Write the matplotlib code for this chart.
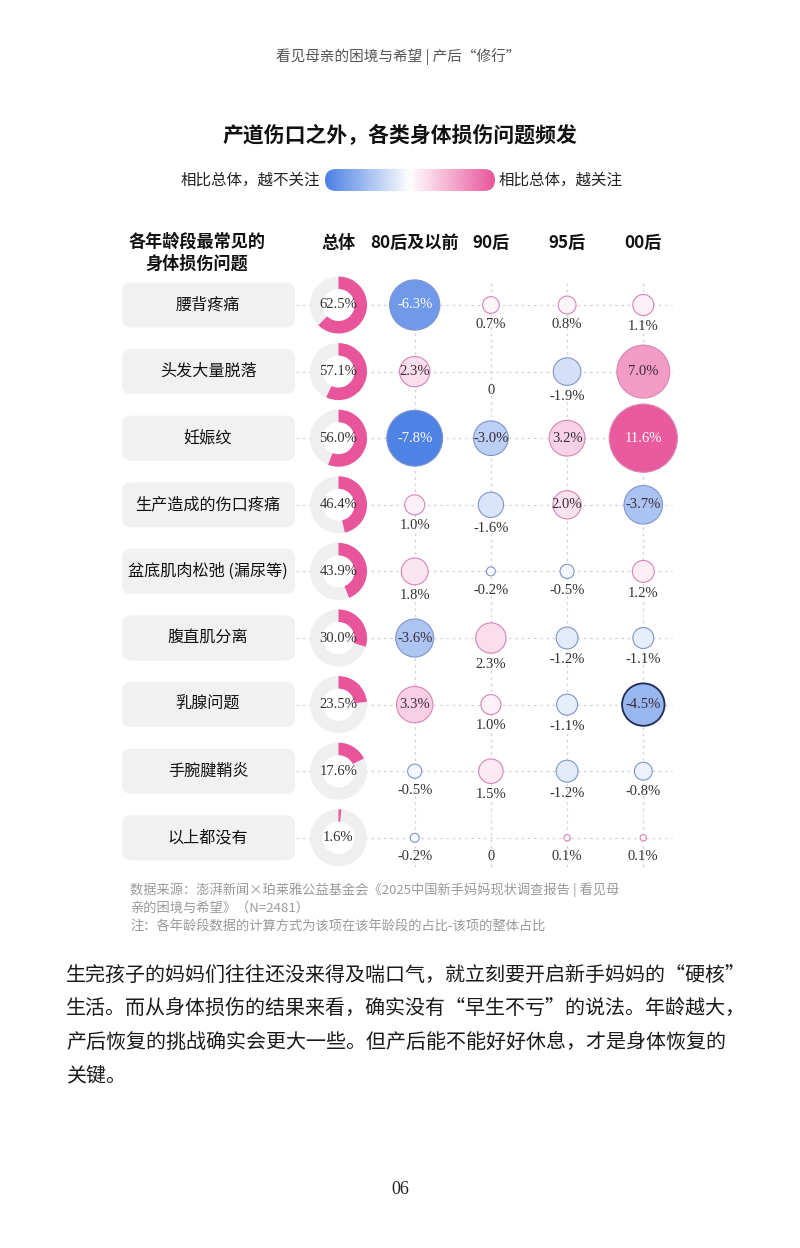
import matplotlib
matplotlib.use("Agg")
import matplotlib.pyplot as plt
import numpy as np
from matplotlib.patches import Circle, Wedge, FancyBboxPatch
from matplotlib.colors import LinearSegmentedColormap, TwoSlopeNorm

plt.rcParams['font.family'] = ['Noto Sans CJK SC', 'DejaVu Sans']

# ---------------- data ----------------
issues = ["腰背疼痛", "头发大量脱落", "妊娠纹", "生产造成的伤口疼痛", "盆底肌肉松弛 (漏尿等)",
          "腹直肌分离", "乳腺问题", "手腕腱鞘炎", "以上都没有"]
overall = [62.5, 57.1, 56.0, 46.4, 43.9, 30.0, 23.5, 17.6, 1.6]
age_groups = ["80后及以前", "90后", "95后", "00后"]
gen80 = [-6.3, 2.3, -7.8, 1.0, 1.8, -3.6, 3.3, -0.5, -0.2]
gen90 = [0.7, 0.0, -3.0, -1.6, -0.2, 2.3, 1.0, 1.5, 0.0]
gen95 = [0.8, -1.9, 3.2, 2.0, -0.5, -1.2, -1.1, -1.2, 0.1]
gen00 = [1.1, 7.0, 11.6, -3.7, 1.2, -1.1, -4.5, -0.8, 0.1]
diffs = [gen80, gen90, gen95, gen00]
# labels printed below the bubble even though the bubble is large
below_override = {(5, 1)}
highlight = {(6, 3)}

title = "产道伤口之外，各类身体损伤问题频发"
header = "看见母亲的困境与希望 | 产后\u201c修行\u201d"
legend_left = "相比总体，越不关注"
legend_right = "相比总体，越关注"
row_header = "各年龄段最常见的\n身体损伤问题"
col_overall = "总体"
source_lines = ["数据来源：澎湃新闻×珀莱雅公益基金会《2025中国新手妈妈现状调查报告 | 看见母",
                "亲的困境与希望》（N=2481）",
                "注：各年龄段数据的计算方式为该项在该年龄段的占比-该项的整体占比"]
body_lines = ["生完孩子的妈妈们往往还没来得及喘口气，就立刻要开启新手妈妈的\u201c硬核\u201d",
              "生活。而从身体损伤的结果来看，确实没有\u201c早生不亏\u201d的说法。年龄越大，",
              "产后恢复的挑战确实会更大一些。但产后能不能好好休息，才是身体恢复的",
              "关键。"]
page_no = "06"

# ---------------- layout ----------------
W, H = 800, 1248
fig = plt.figure(figsize=(W / 100, H / 100), dpi=100)
ax = fig.add_axes([0, 0, 1, 1])

BLUE = "#4A7FE3"
PINK = "#E8559B"
cmap = LinearSegmentedColormap.from_list("bp", [BLUE, "#FFFFFF", PINK])
norm = TwoSlopeNorm(vmin=-8, vcenter=0, vmax=12)

x0, dx = 338.5, 76.2
y0, dy = 305, 66.6
col_x = [x0 + dx * i for i in range(5)]
row_y = [y0 + dy * j for j in range(len(issues))]

serif = "Liberation Serif"

# header
ax.text(398, 57, header, ha="center", va="center", fontsize=10.5, color="#555555")
# title
ax.text(400, 136, title, ha="center", va="center", fontsize=15, fontweight="bold", color="#111111")

# gradient legend
bx0, bx1, by0, by1 = 325, 495, 169, 191
grad = np.linspace(0, 1, 256).reshape(1, -1)
im = ax.imshow(grad, cmap=cmap, extent=(bx0, bx1, by1, by0), aspect="auto", zorder=2,
               interpolation="bicubic")
clip = FancyBboxPatch((bx0, by0), bx1 - bx0, by1 - by0,
                      boxstyle="round,pad=0,rounding_size=11", facecolor="none", edgecolor="none")
ax.add_patch(clip)
im.set_clip_path(clip)
ax.text(bx0 - 5, 180, legend_left, ha="right", va="center", fontsize=11.2, color="#222222")
ax.text(bx1 + 4, 180, legend_right, ha="left", va="center", fontsize=11.2, color="#222222")

# column headers
ax.text(197, 253, row_header, ha="center", va="center", fontsize=12.3, fontweight="bold",
        color="#111111", linespacing=1.3)
heads = [col_overall] + age_groups
for cx, h in zip(col_x, heads):
    ax.text(cx, 243, h, ha="center", va="center", fontsize=12.3, fontweight="bold", color="#111111")

# grid lines
grid_c = "#D9CCDA"
for cx in col_x[1:]:
    ax.plot([cx, cx], [283, 868], ls=(0, (2, 3)), color=grid_c, lw=0.9, zorder=0)
for ry in row_y:
    ax.plot([296, 672], [ry, ry], ls=(0, (2, 3)), color=grid_c, lw=0.9, zorder=0)

# rows
for j, (name, tot) in enumerate(zip(issues, overall)):
    ry = row_y[j]
    box = FancyBboxPatch((122, ry - 22.5), 173, 45, boxstyle="round,pad=0,rounding_size=9",
                         facecolor="#F1F1F1", edgecolor="none", zorder=1)
    ax.add_patch(box)
    ax.text(208, ry, name, ha="center", va="center", fontsize=11.6, fontweight="medium",
            color="#111111", zorder=3)

    cx = col_x[0]
    ax.add_patch(Wedge((cx, ry), 28.5, 0, 360, width=12.5, facecolor="#EFEFEF",
                       edgecolor="none", zorder=2))
    ax.add_patch(Circle((cx, ry), 16, facecolor="white", edgecolor="none", zorder=2))
    ax.add_patch(Wedge((cx, ry), 28.5, -90, -90 + 360 * tot / 100, width=12.5,
                       facecolor=PINK, edgecolor="none", zorder=3))
    ax.text(cx, ry, f"{tot:.1f}%", ha="center", va="center", fontsize=10.5, family=serif,
            color="#333333", zorder=4)

    for i, series in enumerate(diffs):
        v = series[j]
        cx = col_x[i + 1]
        r = 10.0 * np.sqrt(abs(v))
        if v != 0:
            fc = cmap(norm(v))
            ec = (0.84, 0.52, 0.70) if v > 0 else (0.50, 0.58, 0.80)
            lw = 0.8
            if (j, i) in highlight:
                ec, lw = "#1E2A55", 1.3
            ax.add_patch(Circle((cx, ry), r, facecolor=fc, edgecolor=ec, lw=lw, zorder=3))
        lab = "0" if v == 0 else f"{v:.1f}%"
        inside = abs(v) >= 2.0 and (j, i) not in below_override
        if inside:
            strength = abs(float(norm(v)) - 0.5) * 2
            tc = "white" if strength >= 0.75 else "#3A2A3A"
            ax.text(cx, ry, lab, ha="center", va="center", fontsize=10.5, family=serif,
                    color=tc, zorder=4)
        else:
            off = max(r + 11, 19)
            ax.text(cx, ry + off, lab, ha="center", va="center", fontsize=10.5, family=serif,
                    color="#333333", zorder=4)

# source notes
for k, line in enumerate(source_lines):
    ax.text(130, 890 + 18 * k, line, ha="left", va="center", fontsize=9.5, color="#9A9A9A")

# body text
for k, line in enumerate(body_lines):
    ax.text(66, 975 + 33.5 * k, line, ha="left", va="center", fontsize=14.4, color="#1A1A1A")

ax.text(400, 1190, page_no, ha="center", va="center", fontsize=13, family=serif, color="#222222")

ax.set_xlim(0, W)
ax.set_ylim(H, 0)
ax.set_aspect("auto")
ax.axis("off")
fig.savefig("out.png", dpi=100, facecolor="white")
